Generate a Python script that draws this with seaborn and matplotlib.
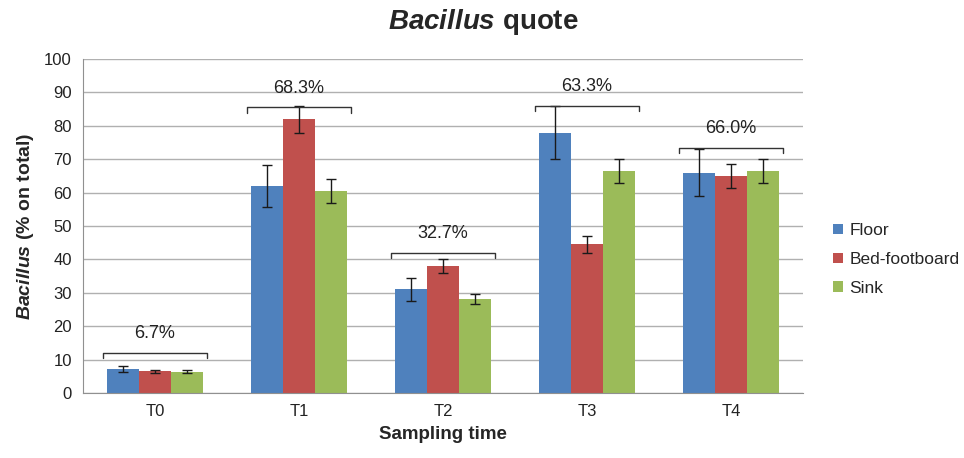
import pandas as pd
import matplotlib.pyplot as plt
import seaborn as sns

# Data
times = ["T0", "T1", "T2", "T3", "T4"]
sites = ["Floor", "Bed-footboard", "Sink"]
floor = [7.2, 62.0, 31.0, 78.0, 66.0]
bed = [6.5, 82.0, 38.0, 44.5, 65.0]
sink = [6.4, 60.5, 28.0, 66.5, 66.5]
floor_err = [1.0, 6.3, 3.5, 8.0, 7.0]
bed_err = [0.5, 4.0, 2.0, 2.5, 3.5]
sink_err = [0.5, 3.5, 1.5, 3.5, 3.5]
quotes = ["6.7%", "68.3%", "32.7%", "63.3%", "66.0%"]
bracket_y = [12.0, 85.5, 42.0, 86.0, 73.5]

colors = ["#4F81BD", "#C0504D", "#9BBB59"]

df = pd.DataFrame({
    "time": times * 3,
    "site": [s for s in sites for _ in times],
    "value": floor + bed + sink,
})

sns.set_style("white")
plt.rcParams["font.family"] = ["Liberation Sans", "DejaVu Sans"]
plt.rcParams["mathtext.fontset"] = "custom"
plt.rcParams["mathtext.rm"] = "Liberation Sans"
plt.rcParams["mathtext.it"] = "Liberation Sans:italic"
plt.rcParams["mathtext.bf"] = "Liberation Sans:bold"
plt.rcParams["mathtext.bfit"] = "Liberation Sans:bold:italic"

fig = plt.figure(figsize=(9.64, 4.58), dpi=100)
ax = fig.add_axes([0.086, 0.142, 0.747, 0.729])

sns.barplot(data=df, x="time", y="value", hue="site", palette=colors,
            width=0.67, gap=0, saturation=1, ax=ax, errorbar=None,
            edgecolor="none")

# error bars on each bar
errs = [floor_err, bed_err, sink_err]
vals = [floor, bed, sink]
bar_groups = list(ax.containers)
for k, cont in enumerate(bar_groups):
    xs = [p.get_x() + p.get_width() / 2 for p in cont.patches]
    ax.errorbar(xs, vals[k], yerr=errs[k], fmt="none", ecolor="#1a1a1a",
                elinewidth=1.0, capsize=3.5, capthick=1.0, zorder=4)

# brackets with group quote
for i, (q, y) in enumerate(zip(quotes, bracket_y)):
    ax.plot([i - 0.36, i - 0.36, i + 0.36, i + 0.36], [y - 1.5, y, y, y - 1.5],
            color="#333333", lw=1.0, zorder=5)
    ax.text(i, y + 3.2, q, ha="center", va="bottom", fontsize=13, color="#222222")

ax.set_ylim(0, 100)
ax.set_xlim(-0.5, 4.5)
ax.set_yticks(range(0, 101, 10))
ax.yaxis.grid(True, color="#b0b0b0", lw=1.0)
ax.set_axisbelow(True)
for s in ["top", "right"]:
    ax.spines[s].set_visible(False)
ax.spines["left"].set_color("#909090")
ax.spines["bottom"].set_color("#909090")
ax.tick_params(axis="both", labelsize=12, colors="#222222", length=0, pad=8)

ax.set_xlabel("Sampling time", fontsize=13.5, fontweight="bold", labelpad=5)
ax.set_ylabel(r"$\mathbfit{Bacillus}$ (% on total)", fontsize=14,
              fontweight="bold", labelpad=6)
fig.suptitle(r"$\mathbfit{Bacillus}$ quote", fontsize=20, fontweight="bold",
             x=0.501, y=0.985)

leg = ax.legend(loc="center left", bbox_to_anchor=(1.02, 0.40), frameon=False,
                fontsize=12.5, handlelength=0.55, handleheight=0.55,
                handletextpad=0.4, labelspacing=0.8)

fig.savefig("out.png", dpi=100)
